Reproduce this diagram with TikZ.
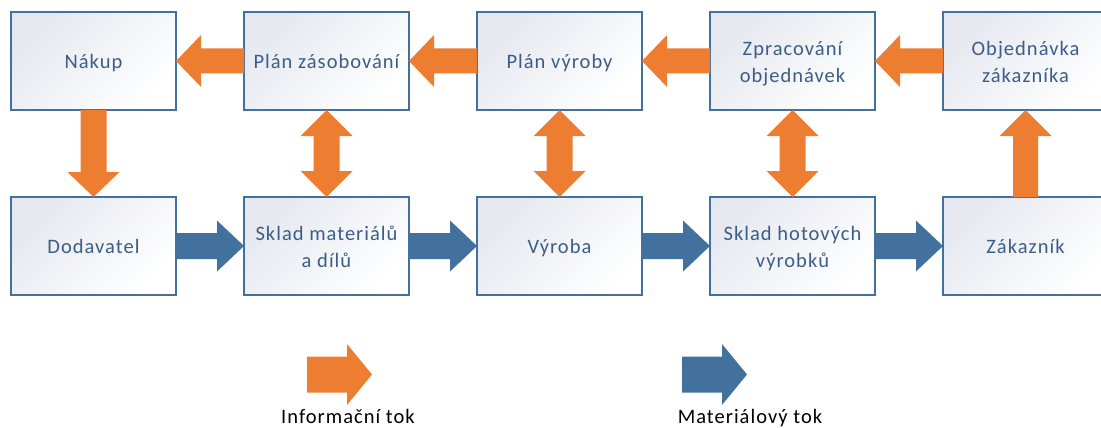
\documentclass[tikz,border=0pt]{standalone}
\usepackage{fontspec}
\usetikzlibrary{calc}
\newfontfamily\boxfont{Carlito}[LetterSpace=5]
\definecolor{infoorange}{HTML}{ED7D31}
\definecolor{matblue}{HTML}{41719C}
\definecolor{boxtext}{HTML}{3B5E88}
\definecolor{boxshade}{HTML}{E5E8EF}
\tikzset{
  stage/.style={draw=matblue, line width=1.1pt, minimum width=165pt, minimum height=98pt,
    inner sep=0pt, outer sep=0pt, align=center, text=boxtext,
    font=\boxfont\fontsize{20.5}{27.5}\selectfont,
    text height=16pt, text depth=1.4pt,
    top color=boxshade, bottom color=white, shading angle=45},
  twolines/.style={text height=44.8pt},
  legendtext/.style={anchor=base, text=black, inner sep=0pt, font=\boxfont\fontsize{20.5}{27.5}\selectfont},
  info/.style={fill=infoorange},
  mat/.style={fill=matblue}
}
% style, tip, tail, shaft half width, head half width, head length
\newcommand\blockarrow[6]{%
  \coordinate (ba-hb) at ($(#2)!#6!(#3)$);
  \fill[#1] (#2) -- ($(ba-hb)!#5!90:(#3)$) -- ($(ba-hb)!#4!90:(#3)$) -- ($(#3)!#4!-90:(#2)$)
    -- ($(#3)!#4!90:(#2)$) -- ($(ba-hb)!#4!-90:(#3)$) -- ($(ba-hb)!#5!-90:(#3)$) -- cycle;
}
% style, tip A, tip B, shaft half width, head half width, head length
\newcommand\dblarrow[6]{%
  \coordinate (da-a) at ($(#2)!#6!(#3)$);
  \coordinate (da-b) at ($(#3)!#6!(#2)$);
  \fill[#1] (#2) -- ($(da-a)!#5!90:(#3)$) -- ($(da-a)!#4!90:(#3)$) -- ($(da-b)!#4!-90:(#2)$)
    -- ($(da-b)!#5!-90:(#2)$) -- (#3) -- ($(da-b)!#5!90:(#2)$) -- ($(da-b)!#4!90:(#2)$)
    -- ($(da-a)!#4!-90:(#3)$) -- ($(da-a)!#5!-90:(#3)$) -- cycle;
}
\begin{document}
\begin{tikzpicture}[x=1pt, y=-1pt]
\useasboundingbox (0,0) rectangle (1101,428);
\clip (0,0) rectangle (1101,428);
% top row
\node[stage] (nakup) at (93.5,61) {Nákup};
\node[stage] (pzas)  at (326.5,61) {Plán zásobování};
\node[stage] (pvyr)  at (559.5,61) {Plán výroby};
\node[stage, twolines] (zprac) at (792.5,61) {Zpracování\\objednávek};
\node[stage, twolines] (objed) at (1025.5,61) {Objednávka\\zákazníka};
% bottom row
\node[stage] (dod)   at (93.5,246) {Dodavatel};
\node[stage, twolines] (smat)  at (326.5,246) {Sklad materiálů\\a dílů};
\node[stage] (vyr)   at (559.5,246) {Výroba};
\node[stage, twolines] (shot)  at (792.5,246) {Sklad hotových\\výrobků};
\node[stage] (zak)   at (1025.5,246) {Zákazník};
% information flow (top row, right to left)
\blockarrow{info}{nakup.east}{pzas.west}{12.5pt}{26pt}{25pt}
\blockarrow{info}{pzas.east}{pvyr.west}{12.5pt}{26pt}{25pt}
\blockarrow{info}{pvyr.east}{zprac.west}{12.5pt}{26pt}{25pt}
\blockarrow{info}{zprac.east}{objed.west}{12.5pt}{26pt}{25pt}
% vertical information flow
\blockarrow{info}{dod.north}{nakup.south}{13pt}{26pt}{25pt}
\dblarrow{info}{pzas.south}{smat.north}{13pt}{26pt}{26pt}
\dblarrow{info}{pvyr.south}{vyr.north}{13pt}{26pt}{26pt}
\dblarrow{info}{zprac.south}{shot.north}{13pt}{26pt}{26pt}
\blockarrow{info}{objed.south}{zak.north}{12.5pt}{26pt}{26pt}
% material flow (bottom row, left to right)
\blockarrow{mat}{smat.west}{dod.east}{13pt}{25.5pt}{27pt}
\blockarrow{mat}{vyr.west}{smat.east}{13pt}{25.5pt}{27pt}
\blockarrow{mat}{shot.west}{vyr.east}{13pt}{25.5pt}{27pt}
\blockarrow{mat}{zak.west}{shot.east}{13pt}{25.5pt}{27pt}
% legend
\coordinate (li-tail) at (307,374.5);
\coordinate (li-tip)  at (372,374.5);
\coordinate (lm-tail) at (682,374.5);
\coordinate (lm-tip)  at (747,374.5);
\blockarrow{info}{li-tip}{li-tail}{18pt}{30.5pt}{25pt}
\blockarrow{mat}{lm-tip}{lm-tail}{18pt}{30.5pt}{25pt}
\node[legendtext] (linfo) at (348,423) {Informační tok};
\node[legendtext] (lmat)  at (750,423) {Materiálový tok};
\end{tikzpicture}
\end{document}
